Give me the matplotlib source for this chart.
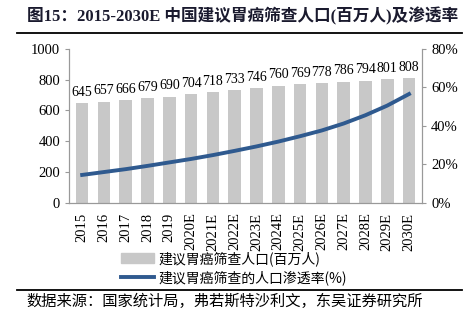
import matplotlib.pyplot as plt
from matplotlib.lines import Line2D
from matplotlib.patches import Patch

years = ['2015', '2016', '2017', '2018', '2019', '2020E', '2021E', '2022E',
         '2023E', '2024E', '2025E', '2026E', '2027E', '2028E', '2029E', '2030E']
population = [645, 657, 666, 679, 690, 704, 718, 733,
              746, 760, 769, 778, 786, 794, 801, 808]
penetration = [14.5, 16.0, 17.5, 19.2, 21.0, 22.8, 24.8, 27.0,
               29.3, 31.8, 34.6, 37.6, 41.2, 45.5, 50.5, 56.5]

serif = ['Liberation Serif', 'Noto Sans CJK SC']
plt.rcParams['font.family'] = serif

fig = plt.figure(figsize=(4.7, 3.32), dpi=100)
ax = fig.add_axes([0.147, 0.389, 0.751, 0.464])

x = range(len(years))
ax.bar(x, population, width=0.58, color='#c8c8c8', zorder=2)
for i, v in zip(x, population):
    ax.text(i, v + 28, str(v), ha='center', va='bottom', fontsize=10)

ax.set_ylim(0, 1000)
ax.set_yticks(range(0, 1001, 200))
ax.set_xlim(-0.6, len(years) - 0.4)
ax.set_xticks(list(x))
ax.set_xticklabels(years, rotation=90, fontsize=10.5)
ax.tick_params(axis='y', labelsize=10.5, length=3, color='#999999')
ax.tick_params(axis='x', length=0, pad=7)

ax2 = ax.twinx()
ax2.plot(x, penetration, color='#2f5a8f', linewidth=2.8, zorder=3)
ax2.set_ylim(0, 80)
ax2.set_yticks(range(0, 81, 20))
ax2.set_yticklabels([f'{t}%' for t in range(0, 81, 20)])
ax2.tick_params(axis='y', labelsize=10.5, length=3, color='#999999')

for a in (ax, ax2):
    a.spines['top'].set_visible(False)
    for s in ('left', 'right', 'bottom'):
        a.spines[s].set_color('#999999')

handles = [Patch(color='#c8c8c8'),
           Line2D([0], [0], color='#2f5a8f', linewidth=2.8)]
labels = ['建议胃癌筛查人口(百万人)', '建议胃癌筛查的人口渗透率(%)']
fig.legend(handles, labels, loc='upper left', bbox_to_anchor=(0.245, 0.26),
           frameon=False, handlelength=2.4, handletextpad=0.3,
           labelspacing=0.3, borderaxespad=0,
           prop={'family': ['Noto Sans CJK SC'], 'size': 10})

fig.text(0.057, 0.952, '图15：2015-2030E 中国建议胃癌筛查人口(百万人)及渗透率',
         fontsize=12, fontweight='bold', color='#1a1a2e', va='center')
fig.add_artist(Line2D([0.036, 0.983], [0.9, 0.9], color='black', linewidth=1.3))
fig.add_artist(Line2D([0.036, 0.983], [0.128, 0.128], color='black', linewidth=1.3))
fig.text(0.057, 0.093, '数据来源：国家统计局，弗若斯特沙利文，东吴证券研究所',
         fontsize=11, va='center')

fig.savefig('out.png', dpi=100)
